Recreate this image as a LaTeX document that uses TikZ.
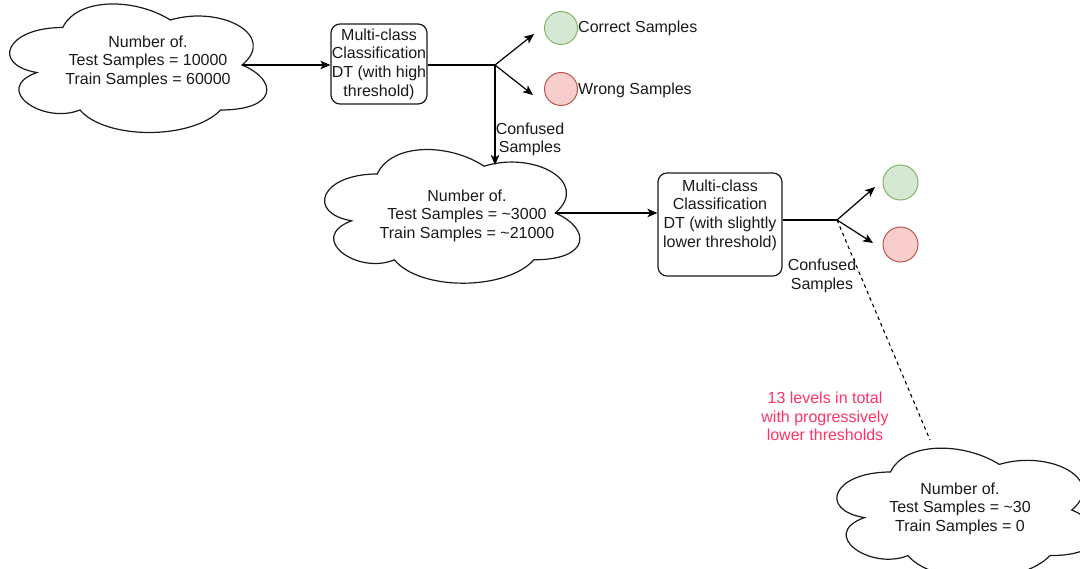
\documentclass[tikz,border=0pt]{standalone}
\usepackage{fontspec}
\setmainfont{Liberation Sans}
\usetikzlibrary{arrows.meta}

\definecolor{inkc}{HTML}{1A1A1A}
\definecolor{okfill}{HTML}{D5E8D4}
\definecolor{okline}{HTML}{82B366}
\definecolor{badfill}{HTML}{F8CECC}
\definecolor{badline}{HTML}{B85450}
\definecolor{notec}{HTML}{FF3366}

% cloud outline inside the box (x0,y0,w,h); defines the coordinate <name>-e at the right notch
\newcommand{\drawcloud}[5]{%
  \draw[cloudline] ({#2+0.25*#4},{#3+0.25*#5})
    .. controls ({#2+0.05*#4},{#3+0.25*#5}) and ({#2},{#3+0.5*#5}) .. ({#2+0.16*#4},{#3+0.55*#5})
    .. controls ({#2},{#3+0.66*#5}) and ({#2+0.18*#4},{#3+0.9*#5}) .. ({#2+0.31*#4},{#3+0.8*#5})
    .. controls ({#2+0.4*#4},{#3+#5}) and ({#2+0.7*#4},{#3+#5}) .. ({#2+0.8*#4},{#3+0.8*#5})
    .. controls ({#2+#4},{#3+0.8*#5}) and ({#2+#4},{#3+0.6*#5}) .. ({#2+0.875*#4},{#3+0.5*#5})
    .. controls ({#2+#4},{#3+0.3*#5}) and ({#2+0.8*#4},{#3+0.1*#5}) .. ({#2+0.625*#4},{#3+0.2*#5})
    .. controls ({#2+0.5*#4},{#3+0.05*#5}) and ({#2+0.3*#4},{#3+0.05*#5}) .. cycle;
  \coordinate (#1-e) at ({#2+0.875*#4},{#3+0.5*#5});
}

\tikzset{
  txt/.style={inner sep=0pt, align=center, text=inkc,
    font=\fontsize{16}{18.6}\selectfont},
  cloudline/.style={draw=inkc, line width=1.2pt, fill=white},
  box/.style={draw=inkc, line width=1.2pt, rounded corners=9pt, fill=white,
    inner sep=0pt, align=center, text=inkc, font=\fontsize{16}{18.6}\selectfont},
  wire/.style={draw=black, line width=1.2pt},
  arrow/.style={wire, -{Stealth[length=10pt, width=8.5pt, inset=2.5pt]}},
  okdot/.style={circle, draw=okline, fill=okfill, line width=1pt, inner sep=0pt},
  baddot/.style={circle, draw=badline, fill=badfill, line width=1pt, inner sep=0pt},
}

\begin{document}
\begin{tikzpicture}[x=1pt, y=-1pt]
\useasboundingbox (0,0) rectangle (1080,569);
\clip (0,0) rectangle (1080,569);

% ---- level 1 ----
\drawcloud{c1}{-9}{-10}{287}{150}
\node[txt] (cloud1) at (148,61.5) {Number of.\\Test Samples = 10000\\Train Samples = 60000};

\node[box, minimum width=96pt, minimum height=80pt] (box1) at (379,64)
  {Multi-class\\Classification\\DT (with high\\threshold)};

\coordinate (j1) at (495,65);
\coordinate (tip1a) at (534,34);
\coordinate (tip1b) at (533,95);

\node[okdot, minimum size=33pt] (ok1) at (561,28) {};
\node[baddot, minimum size=33pt] (bad1) at (561,89) {};
\node[txt, anchor=west] (oklabel) at (578,28) {Correct Samples};
\node[txt, anchor=west] (badlabel) at (578,90) {Wrong Samples};

\draw[arrow] (c1-e) -- (c1-e -| box1.west);
\draw[wire] (box1.east |- j1) -- (j1);
\draw[arrow] (j1) -- (tip1a);
\draw[arrow] (j1) -- (tip1b);

% ---- level 2 ----
\drawcloud{c2}{306}{135}{285}{156}
\coordinate (c2-n) at (495,165);
\node[txt] (cloud2) at (467,215.5) {Number of.\\Test Samples = \textasciitilde3000\\Train Samples = \textasciitilde21000};

\draw[arrow] (j1) -- (c2-n);
\node[txt] (conf1) at (530,139.5) {Confused\\Samples};

\node[box, minimum width=124pt, minimum height=103pt] (box2) at (720,224.5) {};
\node[txt] (box2text) at (720,215) {Multi-class\\Classification\\DT (with slightly\\lower threshold)};

\coordinate (j2) at (837,220);
\coordinate (tip2a) at (875,187);
\coordinate (tip2b) at (873,243);
\coordinate (dashend) at (930,440);

\node[okdot, minimum size=35pt] (ok2) at (900.5,182.5) {};
\node[baddot, minimum size=35pt] (bad2) at (900.5,244.5) {};

\draw[arrow] (c2-e) -- (c2-e -| box2.west);
\draw[wire] (box2.east |- j2) -- (j2);
\draw[arrow] (j2) -- (tip2a);
\draw[arrow] (j2) -- (tip2b);
\node[txt] (conf2) at (822,276) {Confused\\Samples};

% ---- remaining levels ----
\draw[black, line width=1.1pt, dash pattern=on 3.5pt off 3.5pt] (j2) -- (dashend);
\node[txt, text=notec] (note) at (825,416.5) {13 levels in total\\with progressively\\lower thresholds};

\drawcloud{c3}{818}{434}{290}{152}
\node[txt] (cloud3) at (960,508.5) {Number of.\\Test Samples = \textasciitilde30\\Train Samples = 0};
\end{tikzpicture}
\end{document}
